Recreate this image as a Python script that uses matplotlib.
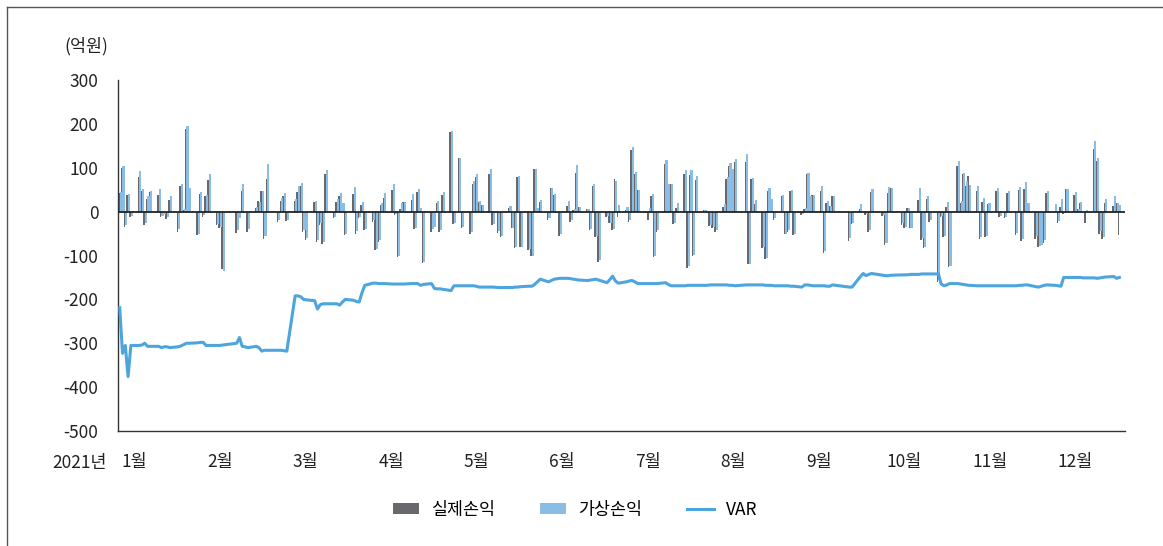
import numpy as np
import pandas as pd
import matplotlib
matplotlib.use("Agg")
import matplotlib.pyplot as plt
from matplotlib.lines import Line2D

plt.rcParams['font.family'] = ['Noto Sans CJK KR', 'DejaVu Sans']
plt.rcParams['axes.unicode_minus'] = False

# 2021 weekdays (Mon-Fri), holidays left at 0 / None
days = pd.bdate_range('2021-01-04', '2021-12-31')

actual = [
    42, 100, -35, 37, -12,   79, 46, -31, 29, 45,
    37, -13, -8, -17, 27,   -46, 58, 3, 188, 45,
    -54, 41, -12, 35, 71,   -31, -37, -131, 0, 0,
    -48, -21, 48, -4, -46,   8, 25, 46, -62, 75,
    0, -23, 25, 35, -21,   25, 45, 58, -46, -65,
    23, -69, -30, -73, 86,   -15, 23, 35, 19, -54,
    41, -50, -15, 15, -42,   -23, -88, -69, 15, 31,
    50, -8, -104, 6, 23,   27, -40, 45, 9, -117,
    -46, -37, 19, -46, 37,   181, -29, 0, 122, -37,
    -50, 62, 80, 23, 15,   86, -31, 0, -48, -58,
    9, -38, -83, 78, -81,   -88, -100, 96, 9, 23,
    -19, 54, 38, -4, -56,   13, -23, 4, 88, 11,
    6, -42, 58, -58, -115,   -12, -27, -42, 75, -12,
    4, -23, 141, 85, 50,   -4, -18, 35, -104, -46,
    108, 54, 62, -28, 9,   85, -128, 83, -100, 71,
    4, -2, -32, -37, -46,   11, 75, 104, 92, 112,
    0, 114, -119, 75, 17,   -83, -108, 48, 29, -18,
    35, -52, -46, 46, -54,   -8, 6, 85, 22, 37,
    48, -94, 19, 13, 35,   0, 0, 0, -68, -29,
    6, 0, -8, -46, 45,   0, -10, -75, 42, 54,
    0, -31, -38, 9, -38,   27, -65, -83, 29, -23,
    -160, -12, -58, 11, -127,   104, 19, 85, 59, 81,
    48, -62, 22, -58, 17,   46, -12, -4, -14, 42,
    -54, 50, -67, 52, 19,   -62, -81, -69, -71, 42,
    -4, -25, 11, -6, 52,   38, 6, 19, 0, -25,
    142, 115, -50, -63, 19,   13, 19, -54, 0, 0,
]

hypothetical = [
    45, 105, -30, 41, -10,   92, 52, -25, 35, 46,
    51, -10, -5, -12, 35,   -40, 62, 5, 195, 54,
    -50, 44, -8, 38, 85,   -28, -35, -135, 0, 0,
    -42, -15, 63, -3, -40,   10, 22, 46, -55, 108,
    0, -18, 30, 42, -18,   28, 58, 65, -42, -60,
    25, -65, -25, -70, 94,   -12, 28, 42, 19, -52,
    55, -45, -12, 22, -40,   -20, -85, -65, 19, 42,
    63, -5, -100, 19, 23,   40, -38, 52, 9, -115,
    -40, -35, 25, -42, 45,   183, -27, 0, 122, -35,
    -46, 69, 85, 25, 15,   98, -28, 0, -45, -56,
    13, -38, -80, 82, -80,   -85, -100, 96, 9, 27,
    -15, 54, 40, -3, -52,   25, -20, 5, 106, 11,
    6, -40, 63, -55, -110,   -10, -25, -40, 69, 15,
    11, -20, 148, 91, 50,   -3, 9, 40, -100, -42,
    117, 64, 62, -25, 19,   94, -125, 95, -98, 81,
    4, -2, -30, -35, -42,   18, 78, 111, 96, 119,
    0, 131, -120, 77, 27,   -80, -105, 54, 29, -15,
    37, -50, -42, 50, -50,   -5, 9, 87, 35, 37,
    58, -90, 25, 13, 35,   0, 0, 0, -60, -25,
    17, 0, -5, -42, 52,   0, -8, -72, 55, 54,
    0, -27, -35, 9, -38,   54, -60, -80, 35, -20,
    -155, -10, -55, 23, -125,   115, 25, 88, 69, 60,
    58, -58, 32, -55, 19,   54, -10, -4, -12, 48,
    -48, 55, -62, 67, 19,   -55, -78, -77, -65, 48,
    17, -22, 29, -4, 52,   45, 6, 23, 0, 4,
    160, 122, -45, -58, 29,   35, 19, 15, 0, 0,
]

var = [
    -219, -323, -305, -376, -305,   -305, -304, -300, -307, -307,
    -307, -310, -308, -308, -310,   -308, -306, -303, -300, -300,
    -299, -298, -298, -305, -305,   -305, -305, -304, None, None,
    -300, -287, -307, -308, -310,   -307, -310, -318, -316, -316,
    None, -316, -316, -317, -318,   -192, -192, -194, -200, -201,
    -203, -222, -212, -210, -210,   -210, -210, -213, -206, -200,
    -202, -205, -206, -185, -168,   -163, -163, -164, -164, -164,
    -165, -165, -165, -165, -165,   -164, -164, -164, -168, -166,
    -164, -175, -176, -176, -177,   -180, -169, None, -169, -169,
    -169, -169, -170, -172, -172,   -172, -172, None, -173, -173,
    -173, -173, -172, -172, -171,   -170, -170, -166, -160, -154,
    -160, -157, -154, -153, -152,   -152, -153, -154, -155, -156,
    -157, -156, -155, -154, -156,   -162, -155, -147, -158, -163,
    -160, -158, -157, -160, -164,   -164, -164, -164, -164, -164,
    -162, -166, -169, -169, -169,   -169, -168, -168, -168, -168,
    -168, -168, -167, -167, -167,   -167, -167, -168, -168, -169,
    None, -167, -167, -167, -167,   -167, -168, -168, -168, -169,
    -169, -169, -169, -170, -170,   -172, -167, -167, -168, -169,
    -169, -169, -170, -170, -167,   None, None, None, -172, -172,
    -148, -141, -146, -143, -141,   None, -145, -146, -146, -145,
    None, -144, -144, -144, -143,   -143, -142, -142, -142, -142,
    -142, -165, -169, -167, -164,   -164, -165, -166, -167, -168,
    -169, -169, -169, -169, -169,   -169, -169, -169, -169, -169,
    -169, -168, -168, -167, -167,   -171, -172, -170, -168, -167,
    -168, -169, -170, -150, -150,   -150, -150, -150, -151, -151,
    -151, -152, -151, -150, -149,   -148, -152, -150, None, None,
]

months = [f'{m}월' for m in range(1, 13)]

df = pd.DataFrame({'actual': actual, 'hypo': hypothetical,
                   'var': np.array(var, dtype=float)}, index=days)
x = (df.index - days[0]).days.values

c_dark = '#69696d'
c_light = '#89bde6'
c_var = '#4da5de'

fig = plt.figure(figsize=(11.63, 5.46), dpi=100)
ax = fig.add_axes([0.1015, 0.2106, 0.8658, 0.6429])

b1 = ax.bar(x - 0.3, df['actual'], width=0.55, color=c_dark, label='실제손익', zorder=2)
b2 = ax.bar(x + 0.35, df['hypo'], width=0.75, color=c_light, label='가상손익', zorder=2)
ax.axhline(0, color='#222222', lw=1.3, zorder=3)
v = df['var'].dropna()
l1, = ax.plot((v.index - days[0]).days.values, v.values, color=c_var, lw=2.2,
              label='VAR', zorder=4, solid_joinstyle='round')

ax.set_xlim(-0.6, 361)
ax.set_ylim(-500, 300)
ax.set_yticks(np.arange(-500, 301, 100))
ax.set_xticks(np.arange(12) * 30.7 + 5.4)
ax.set_xticklabels(months)
ax.tick_params(axis='both', length=0, labelsize=12.5, colors='#222222')
ax.tick_params(axis='x', pad=16)
ax.tick_params(axis='y', pad=14)
for s in ['top', 'right']:
    ax.spines[s].set_visible(False)
for s in ['left', 'bottom']:
    ax.spines[s].set_color('#333333')
    ax.spines[s].set_linewidth(1.0)

fig.text(86 / 1163, 1 - 46 / 546, '(억원)', ha='center', va='center',
         fontsize=12.5, color='#222222')
fig.text(80 / 1163, 1 - 463 / 546, '2021년', ha='center', va='center',
         fontsize=12.5, color='#222222')

fig.legend([b1, b2, l1], ['실제손익', '가상손익', 'VAR'],
           loc='center', bbox_to_anchor=(575 / 1163, 1 - 510 / 546), ncol=3,
           frameon=False, fontsize=12.5, handlelength=1.5, handleheight=0.6,
           handletextpad=0.7, columnspacing=2.6)

# figure frame (left and top edges)
fig.add_artist(Line2D([7 / 1163, 7 / 1163], [0, 1 - 7 / 546], color='#555555', lw=1.0))
fig.add_artist(Line2D([7 / 1163, 1], [1 - 7 / 546, 1 - 7 / 546], color='#555555', lw=1.0))

fig.savefig('out.png', dpi=100)
